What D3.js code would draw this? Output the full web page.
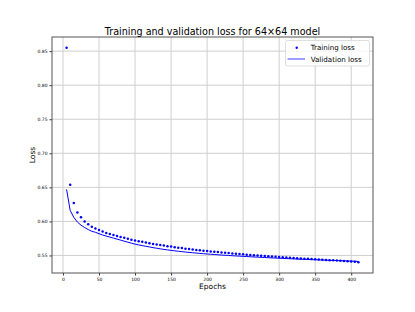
<!DOCTYPE html>
<html lang="en">
<head>
<meta charset="utf-8">
<title>Loss chart</title>
<script src="https://d3js.org/d3.v7.min.js"></script>
<style>
  body { margin: 0; background: #fff; }
  text { font-family: "DejaVu Sans", sans-serif; fill: #000; }
</style>
</head>
<body>
<div id="chart"></div>
<script>
// epochs 5..410 in steps of 5
var epochs = [5,10,15,20,25,30,35,40,45,50,55,60,65,70,75,80,85,90,95,100,
  105,110,115,120,125,130,135,140,145,150,155,160,165,170,175,180,185,190,195,200,
  205,210,215,220,225,230,235,240,245,250,255,260,265,270,275,280,285,290,295,300,
  305,310,315,320,325,330,335,340,345,350,355,360,365,370,375,380,385,390,395,400,
  405,410];

var trainLoss = [0.855,0.654,0.627,0.613,0.606,0.600,0.596,0.592,0.5895,0.5875,
  0.585,0.583,0.5815,0.580,0.5785,0.577,0.576,0.5745,0.573,0.572,
  0.571,0.570,0.569,0.568,0.567,0.566,0.5652,0.5645,0.5637,0.563,
  0.5622,0.5615,0.5608,0.560,0.5594,0.5588,0.5582,0.5576,0.557,0.5565,
  0.556,0.5555,0.555,0.5545,0.554,0.5535,0.553,0.5525,0.552,0.5516,
  0.5512,0.5507,0.5503,0.5499,0.5495,0.5491,0.5487,0.5483,0.548,0.5476,
  0.5472,0.5469,0.5466,0.5462,0.5459,0.5456,0.5453,0.545,0.5447,0.5444,
  0.5441,0.5438,0.5435,0.5431,0.5428,0.5425,0.5422,0.5419,0.5416,0.5412,
  0.5407,0.5400];

var valLoss = [0.647,0.616,0.606,0.599,0.5945,0.591,0.588,0.5855,0.584,0.582,
  0.580,0.5785,0.577,0.5755,0.574,0.5725,0.571,0.5695,0.568,0.5667,
  0.5655,0.5645,0.5635,0.5625,0.5615,0.5606,0.5597,0.5589,0.5582,0.5575,
  0.5568,0.5562,0.5556,0.555,0.5545,0.554,0.5535,0.553,0.5526,0.5522,
  0.5518,0.5514,0.551,0.5506,0.5503,0.55,0.5496,0.5493,0.549,0.5487,
  0.5484,0.5481,0.5478,0.5475,0.5472,0.547,0.5467,0.5464,0.5462,0.5459,
  0.5457,0.5454,0.5452,0.545,0.5447,0.5445,0.5443,0.5441,0.5439,0.5437,
  0.5435,0.5433,0.5431,0.5429,0.5427,0.5425,0.5423,0.5421,0.5419,0.5417,
  0.5415,0.5413];

var xTicks = [0,50,100,150,200,250,300,350,400];
var yTicks = [0.55,0.60,0.65,0.70,0.75,0.80,0.85];

var title = "Training and validation loss for 64\u00d764 model";
var seriesNames = ["Training loss", "Validation loss"];

var w = 415, h = 312;
var margin = {left: 52, right: 42, top: 37, bottom: 39};

var svg = d3.select("#chart").append("svg")
  .attr("width", w)
  .attr("height", h);

// matplotlib-like 5% margins around the data
function padded(ext) {
  var pad = (ext[1] - ext[0]) * 0.05;
  return [ext[0] - pad, ext[1] + pad];
}
var allY = trainLoss.concat(valLoss);

var x = d3.scaleLinear()
  .domain(padded(d3.extent(epochs)))
  .range([margin.left, w - margin.right]);
var y = d3.scaleLinear()
  .domain(padded(d3.extent(allY)))
  .range([h - margin.bottom, margin.top]);

// grid
var grid = svg.append("g").attr("class", "grid");
grid.selectAll(".gx").data(xTicks).enter().append("line")
  .attr("x1", function(d) { return x(d); })
  .attr("x2", function(d) { return x(d); })
  .attr("y1", margin.top)
  .attr("y2", h - margin.bottom)
  .attr("stroke", "#cfcfcf")
  .attr("stroke-width", 1);
grid.selectAll(".gy").data(yTicks).enter().append("line")
  .attr("x1", margin.left)
  .attr("x2", w - margin.right)
  .attr("y1", function(d) { return y(d); })
  .attr("y2", function(d) { return y(d); })
  .attr("stroke", "#cfcfcf")
  .attr("stroke-width", 1);

// axes
var xAxis = svg.append("g")
  .attr("transform", "translate(0," + (h - margin.bottom) + ")")
  .call(d3.axisBottom(x).tickValues(xTicks).tickSize(2.5).tickPadding(2).tickFormat(d3.format("d")));
var yAxis = svg.append("g")
  .attr("transform", "translate(" + margin.left + ",0)")
  .call(d3.axisLeft(y).tickValues(yTicks).tickSize(2.5).tickPadding(2).tickFormat(d3.format(".2f")));
[xAxis, yAxis].forEach(function(a) {
  a.select(".domain").remove();
  a.selectAll("line").attr("stroke", "#333");
  a.selectAll("text").style("font-size", "4.5px").style("font-family", "DejaVu Sans");
});

// validation line
var line = d3.line()
  .x(function(d, i) { return x(epochs[i]); })
  .y(function(d) { return y(d); });
svg.append("path")
  .datum(valLoss)
  .attr("fill", "none")
  .attr("stroke", "#0000ff")
  .attr("stroke-width", 1)
  .attr("d", line);

// training dots
svg.append("g").selectAll("circle")
  .data(trainLoss)
  .enter().append("circle")
  .attr("cx", function(d, i) { return x(epochs[i]); })
  .attr("cy", function(d) { return y(d); })
  .attr("r", 1.25)
  .attr("fill", "#0000ff");

// frame
svg.append("rect")
  .attr("x", margin.left)
  .attr("y", margin.top)
  .attr("width", w - margin.left - margin.right)
  .attr("height", h - margin.top - margin.bottom)
  .attr("fill", "none")
  .attr("stroke", "#555")
  .attr("stroke-width", 1);

// title and labels
svg.append("text")
  .attr("x", (margin.left + w - margin.right) / 2)
  .attr("y", 34.5)
  .attr("text-anchor", "middle")
  .style("font-size", "9.6px")
  .text(title);

svg.append("text")
  .attr("x", (margin.left + w - margin.right) / 2)
  .attr("y", 289)
  .attr("text-anchor", "middle")
  .style("font-size", "7.5px")
  .text("Epochs");

svg.append("text")
  .attr("transform", "translate(34.5," + ((margin.top + h - margin.bottom) / 2) + ") rotate(-90)")
  .attr("text-anchor", "middle")
  .style("font-size", "7.5px")
  .text("Loss");

// legend
var lg = svg.append("g").attr("transform", "translate(285.5,40.5)");
lg.append("rect")
  .attr("width", 84)
  .attr("height", 25.5)
  .attr("rx", 2)
  .attr("fill", "#fff")
  .attr("fill-opacity", 0.8)
  .attr("stroke", "#d5d5d5")
  .attr("stroke-width", 0.8);
lg.append("circle")
  .attr("cx", 11.2).attr("cy", 7.3).attr("r", 1.2)
  .attr("fill", "#0000ff");
lg.append("line")
  .attr("x1", 2).attr("x2", 19.5)
  .attr("y1", 18.5).attr("y2", 18.5)
  .attr("stroke", "#0000ff").attr("stroke-opacity", 0.5)
  .attr("stroke-width", 1.5);
lg.selectAll(".lt").data(seriesNames).enter().append("text")
  .attr("x", 25.2)
  .attr("y", function(d, i) { return 9.8 + i * 11.2; })
  .style("font-size", "7.1px")
  .text(function(d) { return d; });
</script>
</body>
</html>
